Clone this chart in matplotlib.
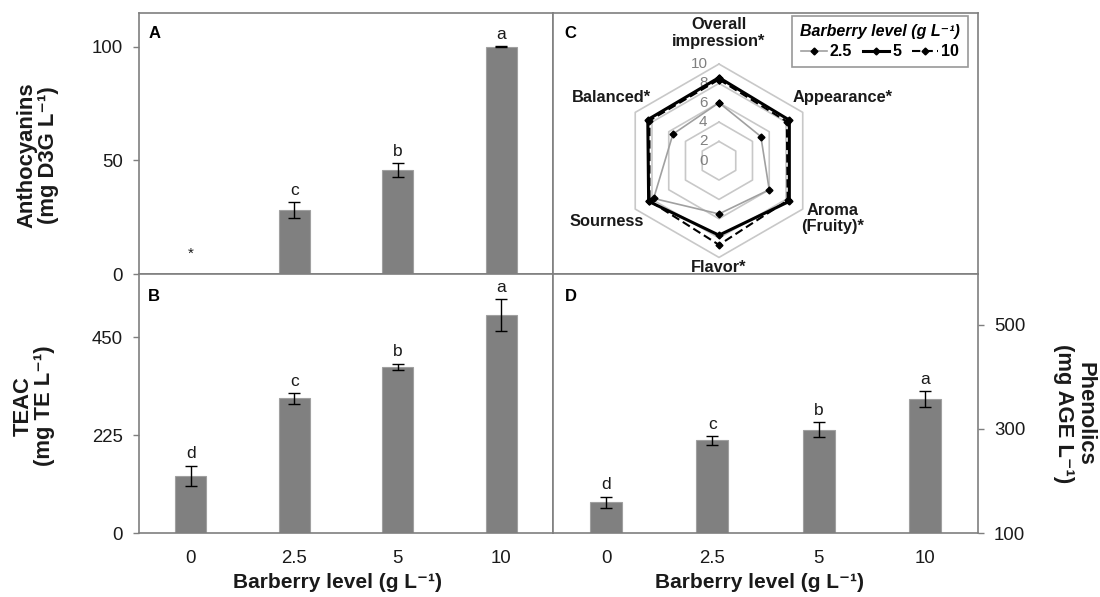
import numpy as np
import matplotlib
matplotlib.use("Agg")
from matplotlib import pyplot as plt

plt.rcParams['font.family'] = ['Liberation Sans', 'DejaVu Sans']

# data
levels = ['0', '2.5', '5', '10']

antho = [np.nan, 28.3, 45.8, 100.0]
antho_err = [np.nan, 3.5, 3.1, 0.3]
antho_sig = ['', 'c', 'b', 'a']

teac = [132, 310, 383, 502]
teac_err = [23, 12, 7, 37]
teac_sig = ['d', 'c', 'b', 'a']

phen = [159, 278, 299, 358]
phen_err = [11, 8, 14, 15]
phen_sig = ['d', 'c', 'b', 'a']

attributes = ['Overall\nimpression*', 'Appearance*', 'Aroma\n(Fruity)*',
              'Flavor*', 'Sourness', 'Balanced*']
sens_25 = [6.0, 5.0, 6.0, 5.5, 7.8, 5.5]
sens_5 = [8.6, 8.4, 8.4, 7.7, 8.4, 8.5]
sens_10 = [8.4, 8.1, 8.2, 8.7, 8.3, 8.3]
rings = [0, 2, 4, 6, 8, 10]

unit = 'Barberry level (g L\u207b\u00b9)'
spine_col = '#7f7f7f'
text_col = '#1a1a1a'

fig = plt.figure(figsize=(11, 5.97), dpi=100)
axA = fig.add_axes([0.1264, 0.541, 0.3764, 0.438])
axB = fig.add_axes([0.1264, 0.1072, 0.3764, 0.4338])
axC = fig.add_axes([0.5027, 0.541, 0.3864, 0.438])
axD = fig.add_axes([0.5027, 0.1072, 0.3864, 0.4338])

for ax in [axA, axB, axC, axD]:
    for sp in ax.spines.values():
        sp.set_color(spine_col)
        sp.set_linewidth(1.2)


def bars(ax, vals, errs, sig):
    x = np.arange(len(levels))
    vals = np.array(vals, dtype=float)
    errs = np.array(errs, dtype=float)
    ok = ~np.isnan(vals)
    ax.bar(x[ok], vals[ok], width=0.3, color='#808080', edgecolor='#a0a0a0',
           linewidth=0.8, yerr=errs[ok], capsize=4,
           error_kw=dict(ecolor='black', elinewidth=1, capthick=1))
    for xi, v, e, s in zip(x[ok], vals[ok], errs[ok], np.array(sig)[ok]):
        ax.annotate(s, (xi, v + e), xytext=(0, 3), textcoords='offset points',
                    ha='center', va='bottom', fontsize=12.5, color=text_col)
    ax.set_xlim(-0.5, len(levels) - 0.5)
    ax.set_xticks(x)
    ax.tick_params(axis='y', length=4.5, width=1, color=spine_col, pad=7,
                   labelsize=13.4, labelcolor=text_col)
    ax.tick_params(axis='x', length=0, pad=12, labelsize=13.4, labelcolor=text_col)


# A: anthocyanins
bars(axA, antho, antho_err, antho_sig)
axA.set_ylim(0, 115)
axA.set_yticks([0, 50, 100])
axA.set_xticklabels([])
axA.text(0, 9, '*', ha='center', va='center', fontsize=11, color=text_col)
axA.set_ylabel('Anthocyanins\n(mg D3G L\u207b\u00b9)', fontsize=15.8, fontweight='bold',
               ha='center', va='center', color=text_col, linespacing=1.0)
axA.yaxis.set_label_coords(-0.245, 0.455)
axA.text(0.022, 0.92, 'A', transform=axA.transAxes, fontsize=12,
         fontweight='bold', va='center')

# B: TEAC
bars(axB, teac, teac_err, teac_sig)
axB.set_ylim(0, 596)
axB.set_yticks([0, 225, 450])
axB.set_xticklabels(levels)
axB.set_ylabel('TEAC\n(mg TE L\u207b\u00b9)', fontsize=15.8, fontweight='bold',
               ha='center', va='center', color=text_col, linespacing=1.0)
axB.yaxis.set_label_coords(-0.254, 0.49)
axB.set_xlabel(unit, fontsize=15, fontweight='bold', va='center', color=text_col)
axB.xaxis.set_label_coords(0.48, -0.193)
axB.text(0.022, 0.915, 'B', transform=axB.transAxes, fontsize=12,
         fontweight='bold', va='center')

# D: phenolics (axis on the right)
bars(axD, phen, phen_err, phen_sig)
axD.set_ylim(100, 598)
axD.set_yticks([100, 300, 500])
axD.set_xticklabels(levels)
axD.yaxis.tick_right()
axD.yaxis.set_label_position('right')
axD.set_ylabel('Phenolics\n(mg AGE L\u207b\u00b9)', fontsize=15.8, fontweight='bold',
               rotation=270, ha='center', va='center', color=text_col, linespacing=1.0)
axD.yaxis.set_label_coords(1.227, 0.46)
axD.set_xlabel(unit, fontsize=15, fontweight='bold', va='center', color=text_col)
axD.xaxis.set_label_coords(0.487, -0.193)
axD.text(0.028, 0.915, 'D', transform=axD.transAxes, fontsize=12,
         fontweight='bold', va='center')

# C: sensory radar drawn on a plain axes (1 unit = 9.67 px)
s = 9.67
axC.set_xlim(-166 / s, (425 - 166) / s)
axC.set_ylim(-113.3 / s, (261.5 - 113.3) / s)
axC.set_xticks([])
axC.set_yticks([])
ang = np.deg2rad([90, 30, -30, -90, -150, 150])
ang_c = np.append(ang, ang[0])

for r in rings[1:]:
    axC.plot(r * np.cos(ang_c), r * np.sin(ang_c), color='#c8c8c8', lw=1.2, zorder=1)
for r in rings:
    axC.text(-1.2, r, str(r), ha='right', va='center', fontsize=11, color='#808080')


def radar(vals, **kw):
    v = np.append(vals, vals[0])
    return axC.plot(v * np.cos(ang_c), v * np.sin(ang_c), marker='D', ms=3.5,
                    mfc='black', mec='black', zorder=3, **kw)[0]


h1 = radar(sens_25, color='#a0a0a0', lw=1.2, label='2.5')
h2 = radar(sens_5, color='black', lw=2.2, label='5')
h3 = radar(sens_10, color='black', lw=1.5, ls=(0, (4, 2)), label='10')

label_pos = [(0, 13.2, 'center'), (7.65, 6.5, 'left'), (11.7, -6.0, 'center'),
             (0, -11.0, 'center'), (-11.6, -6.3, 'center'), (-11.1, 6.5, 'center')]
for name, (lx, ly, ha) in zip(attributes, label_pos):
    axC.text(lx, ly, name, ha=ha, va='center', fontsize=11.8, fontweight='bold',
             color=text_col, linespacing=1.1)

leg = axC.legend(handles=[h1, h2, h3], title=unit, ncol=3, loc='upper right',
                 bbox_to_anchor=(0.976, 0.985), borderaxespad=0, frameon=True,
                 fancybox=False, handlelength=1.6, handletextpad=0.2,
                 columnspacing=0.7, borderpad=0.5, labelspacing=0.3,
                 prop={'weight': 'bold', 'size': 11.5},
                 title_fontproperties={'weight': 'bold', 'style': 'italic', 'size': 11.5})
leg.get_frame().set_edgecolor(spine_col)
leg.get_frame().set_linewidth(1.2)
axC.text(0.028, 0.92, 'C', transform=axC.transAxes, fontsize=12,
         fontweight='bold', va='center')

fig.savefig('out.png', dpi=100)
